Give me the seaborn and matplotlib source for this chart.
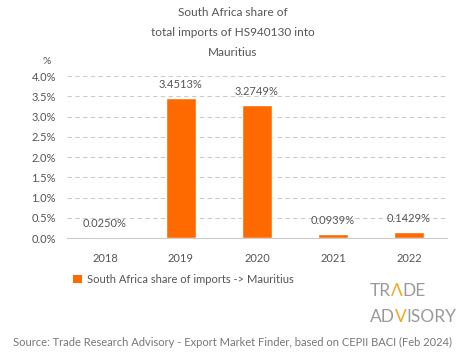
from matplotlib import pyplot as plt
from matplotlib.offsetbox import TextArea, HPacker, VPacker, AnchoredOffsetbox
from matplotlib.patches import Patch
from matplotlib.ticker import FuncFormatter
import seaborn as sns
import pandas as pd

years = ['2018', '2019', '2020', '2021', '2022']
share = [0.0250, 3.4513, 3.2749, 0.0939, 0.1429]
series_name = 'South Africa share of imports -> Mauritius'
title = 'South Africa share of\ntotal imports of HS940130 into\nMauritius'
source = 'Source: Trade Research Advisory - Export Market Finder, based on CEPII BACI (Feb 2024)'

ORANGE = '#FF6A00'
GREY = '#555555'


def make_plot():
    sns.set_style('white')
    plt.rcParams['font.family'] = ['Lato', 'DejaVu Sans']
    data = pd.DataFrame({'Year': years, 'Share': share})

    fig = plt.figure(figsize=(4.65, 3.59), dpi=100)
    ax = fig.add_axes([0.144, 0.337, 0.817, 0.451])
    sns.barplot(data=data, x='Year', y='Share', color=ORANGE, width=0.4,
                saturation=1, ax=ax)

    for i, v in enumerate(share):
        ax.annotate(f'{v:.4f}%', (i, v), xytext=(0, 6), textcoords='offset points',
                    ha='center', va='bottom', fontsize=8, color=GREY)

    ax.set_ylim(0, 4.0)
    ax.set_yticks([0, 0.5, 1.0, 1.5, 2.0, 2.5, 3.0, 3.5, 4.0])
    ax.yaxis.set_major_formatter(FuncFormatter(lambda v, p: f'{v:.1f}%'))
    ax.grid(axis='y', color='#cccccc', linestyle=(0, (4, 3)), linewidth=0.8)
    ax.set_axisbelow(True)
    for s in ['top', 'right', 'left']:
        ax.spines[s].set_visible(False)
    ax.spines['bottom'].set_color('#cccccc')
    ax.tick_params(axis='both', length=0, labelsize=8, labelcolor=GREY)
    ax.tick_params(axis='x', pad=11)
    ax.tick_params(axis='y', pad=8)
    ax.set_xlabel('')
    ax.set_ylabel('')

    fig.text(0.5, 0.91, title, ha='center', va='center', fontsize=8.5,
             color=GREY, linespacing=2.0)
    fig.text(0.101, 0.83, '%', ha='center', va='center', fontsize=7.5, color=GREY)

    handle = Patch(facecolor=ORANGE, edgecolor='none', label=series_name)
    fig.legend(handles=[handle], loc='center left', bbox_to_anchor=(0.157, 0.222),
               frameon=False, fontsize=8, handlelength=0.8, handleheight=0.8,
               handletextpad=0.5, labelcolor=GREY, borderpad=0, borderaxespad=0)

    fig.text(0.5, 0.045, source, ha='center', va='center', fontsize=8, color='#777777')

    # logo
    lp = dict(fontsize=12.5, color='#9a9a9a')
    op = dict(fontsize=12.5, color='#F5A623')
    row1 = HPacker(children=[TextArea('TR', textprops=lp), TextArea('\u039B', textprops=op),
                             TextArea('DE', textprops=lp)], pad=0, sep=0)
    row2 = HPacker(children=[TextArea('AD', textprops=lp), TextArea('V', textprops=op),
                             TextArea('ISORY', textprops=lp)], pad=0, sep=0)
    logo = VPacker(children=[row1, row2], pad=0, sep=7, align='left')
    box = AnchoredOffsetbox(loc='center left', child=logo, frameon=False,
                            bbox_to_anchor=(0.783, 0.153), bbox_transform=fig.transFigure,
                            borderpad=0)
    fig.add_artist(box)


def save_plot_as(filename):
    make_plot()
    plt.savefig(filename, dpi=100)
    plt.close()


if __name__ == '__main__':
    save_plot_as('out.png')
